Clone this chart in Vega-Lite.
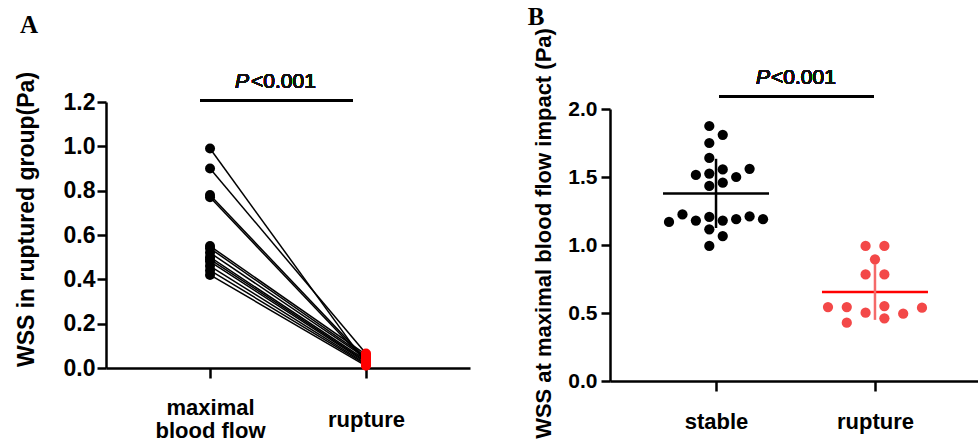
{
  "$schema": "https://vega.github.io/schema/vega-lite/v6.json",
  "background": "white",
  "padding": {"left": 15, "top": 4, "right": 0, "bottom": 0},
  "spacing": 57,
  "config": {
    "view": {"stroke": null},
    "font": "Liberation Sans",
    "text": {"fontWeight": 400},
    "axis": {
      "grid": false,
      "domainColor": "black",
      "domainWidth": 2.5,
      "tickColor": "black",
      "tickWidth": 2.5,
      "tickSize": 9,
      "labelFont": "Liberation Sans",
      "labelFontWeight": "bold",
      "labelColor": "black",
      "titleFont": "Liberation Sans",
      "titleFontWeight": "bold",
      "titleColor": "black"
    }
  },
  "datasets": {
    "pairs": [
      {"id": 1, "stage": "maximal blood flow", "wss": 0.99},
      {"id": 2, "stage": "maximal blood flow", "wss": 0.90},
      {"id": 3, "stage": "maximal blood flow", "wss": 0.78},
      {"id": 4, "stage": "maximal blood flow", "wss": 0.77},
      {"id": 5, "stage": "maximal blood flow", "wss": 0.55},
      {"id": 6, "stage": "maximal blood flow", "wss": 0.54},
      {"id": 7, "stage": "maximal blood flow", "wss": 0.52},
      {"id": 8, "stage": "maximal blood flow", "wss": 0.50},
      {"id": 9, "stage": "maximal blood flow", "wss": 0.49},
      {"id": 10, "stage": "maximal blood flow", "wss": 0.48},
      {"id": 11, "stage": "maximal blood flow", "wss": 0.46},
      {"id": 12, "stage": "maximal blood flow", "wss": 0.44},
      {"id": 13, "stage": "maximal blood flow", "wss": 0.42},
      {"id": 1, "stage": "rupture", "wss": 0.02},
      {"id": 2, "stage": "rupture", "wss": 0.065},
      {"id": 3, "stage": "rupture", "wss": 0.04},
      {"id": 4, "stage": "rupture", "wss": 0.03},
      {"id": 5, "stage": "rupture", "wss": 0.06},
      {"id": 6, "stage": "rupture", "wss": 0.05},
      {"id": 7, "stage": "rupture", "wss": 0.045},
      {"id": 8, "stage": "rupture", "wss": 0.035},
      {"id": 9, "stage": "rupture", "wss": 0.03},
      {"id": 10, "stage": "rupture", "wss": 0.025},
      {"id": 11, "stage": "rupture", "wss": 0.02},
      {"id": 12, "stage": "rupture", "wss": 0.015},
      {"id": 13, "stage": "rupture", "wss": 0.01}
    ],
    "groups": [
      {"group": "stable", "wss": 1.875, "slot": -0.5},
      {"group": "stable", "wss": 1.81, "slot": 0.5},
      {"group": "stable", "wss": 1.75, "slot": -0.5},
      {"group": "stable", "wss": 1.64, "slot": -0.5},
      {"group": "stable", "wss": 1.515, "slot": -1.5},
      {"group": "stable", "wss": 1.525, "slot": -0.5},
      {"group": "stable", "wss": 1.556, "slot": 0.5},
      {"group": "stable", "wss": 1.50, "slot": 1.5},
      {"group": "stable", "wss": 1.56, "slot": 2.5},
      {"group": "stable", "wss": 1.434, "slot": -0.5},
      {"group": "stable", "wss": 1.458, "slot": 0.5},
      {"group": "stable", "wss": 1.17, "slot": -3.5},
      {"group": "stable", "wss": 1.225, "slot": -2.5},
      {"group": "stable", "wss": 1.18, "slot": -1.5},
      {"group": "stable", "wss": 1.206, "slot": -0.5},
      {"group": "stable", "wss": 1.18, "slot": 0.5},
      {"group": "stable", "wss": 1.19, "slot": 1.5},
      {"group": "stable", "wss": 1.21, "slot": 2.5},
      {"group": "stable", "wss": 1.19, "slot": 3.5},
      {"group": "stable", "wss": 1.115, "slot": -0.5},
      {"group": "stable", "wss": 1.066, "slot": 0.5},
      {"group": "stable", "wss": 0.993, "slot": -0.5},
      {"group": "rupture", "wss": 0.993, "slot": -0.7},
      {"group": "rupture", "wss": 0.993, "slot": 0.7},
      {"group": "rupture", "wss": 0.895, "slot": 0},
      {"group": "rupture", "wss": 0.784, "slot": -0.7},
      {"group": "rupture", "wss": 0.784, "slot": 0.7},
      {"group": "rupture", "wss": 0.544, "slot": -3.5},
      {"group": "rupture", "wss": 0.544, "slot": -2.1},
      {"group": "rupture", "wss": 0.551, "slot": 0.7},
      {"group": "rupture", "wss": 0.539, "slot": 3.5},
      {"group": "rupture", "wss": 0.502, "slot": -0.7},
      {"group": "rupture", "wss": 0.495, "slot": 2.1},
      {"group": "rupture", "wss": 0.461, "slot": 0.7},
      {"group": "rupture", "wss": 0.429, "slot": -2.1}
    ]
  },
  "hconcat": [
    {
      "width": 364,
      "height": 279,
      "title": {"text": "A", "anchor": "start", "frame": "bounds", "font": "Liberation Serif", "fontSize": 25, "fontWeight": "bold", "color": "black", "offset": 33, "dx": 5},
      "data": {"name": "pairs"},
      "encoding": {
        "x": {
          "field": "stage", "type": "nominal", "sort": ["maximal blood flow", "rupture"],
          "scale": {"type": "point", "padding": 0.667, "align": 0.5},
          "axis": {"title": null, "labelAngle": 0, "offset": -13, "tickSize": 10, "labelFontSize": 22, "labelBaseline": "middle", "labelLineHeight": 23,
                   "labelPadding": {"condition": {"test": "datum.value == 'maximal blood flow'", "value": 29}, "value": 41},
                   "labelExpr": "datum.value == 'maximal blood flow' ? ['maximal', 'blood flow'] : datum.label"}
        },
        "y": {
          "field": "wss", "type": "quantitative",
          "scale": {"domain": [0, 1.2], "range": [266, 0], "nice": false, "zero": false},
          "axis": {"title": "WSS in ruptured group(Pa)", "titleFontSize": 23, "titleY": 117, "titlePadding": 25, "values": [0, 0.2, 0.4, 0.6, 0.8, 1.0, 1.2], "format": ".1f", "labelFontSize": 23, "labelPadding": 2}
        }
      },
      "layer": [
        {"mark": {"type": "line", "color": "black", "strokeWidth": 1.5}, "encoding": {"detail": {"field": "id", "type": "nominal"}}},
        {"mark": {"type": "circle", "size": 100, "opacity": 1},
         "encoding": {"color": {"condition": {"test": "datum.stage === 'rupture'", "value": "#ff0000"}, "value": "black"}}},
        {"mark": {"type": "rule", "color": "black", "strokeWidth": 2.5, "xOffset": -10, "x2Offset": -13},
         "encoding": {"x": {"datum": "maximal blood flow", "type": "nominal"}, "x2": {"datum": "rupture"}, "y": {"datum": 1.2077, "type": "quantitative"}}},
        {"mark": {"type": "text", "text": "P", "font": "Liberation Sans", "fontStyle": "italic", "fontWeight": 400, "fontSize": 21, "align": "left", "baseline": "middle", "xOffset": 25, "color": "#111111"},
         "encoding": {"x": {"datum": "maximal blood flow", "type": "nominal"}, "y": {"datum": 1.29, "type": "quantitative"}}},
        {"mark": {"type": "text", "text": "<0.001", "font": "Liberation Sans", "fontWeight": 400, "fontSize": 21, "align": "left", "baseline": "middle", "xOffset": 41, "color": "#111111"},
         "encoding": {"x": {"datum": "maximal blood flow", "type": "nominal"}, "y": {"datum": 1.29, "type": "quantitative"}}}
      ]
    },
    {
      "width": 371,
      "height": 279,
      "title": {"text": "B", "anchor": "start", "frame": "bounds", "font": "Liberation Serif", "fontSize": 25, "fontWeight": "bold", "color": "black", "offset": -2, "dx": -5},
      "data": {"name": "groups"},
      "encoding": {
        "x": {
          "field": "group", "type": "nominal", "sort": ["stable", "rupture"],
          "scale": {"type": "point", "padding": 0.667, "align": 0.5},
          "axis": {"title": null, "labelAngle": 0, "tickSize": 10, "labelFontSize": 22, "labelBaseline": "middle", "labelPadding": 30}
        },
        "y": {
          "field": "wss", "type": "quantitative",
          "scale": {"domain": [0, 2], "range": [279, 7], "nice": false, "zero": false},
          "axis": {"title": "WSS at maximal blood flow impact (Pa)", "titleFontSize": 22, "titleY": 131, "titlePadding": 12, "values": [0, 0.5, 1.0, 1.5, 2.0], "format": ".1f", "labelFontSize": 21, "labelPadding": 4}
        }
      },
      "layer": [
        {"mark": {"type": "circle", "size": 105, "opacity": 1},
         "encoding": {
           "xOffset": {"field": "slot", "type": "quantitative", "scale": {"domain": [-3.5, 3.5], "range": [-47, 47]}},
           "color": {"condition": {"test": "datum.group === 'rupture'", "value": "#f34848"}, "value": "black"}}},
        {"mark": {"type": "tick", "thickness": 2.5, "size": 106},
         "encoding": {"y": {"aggregate": "mean", "field": "wss", "type": "quantitative"},
                      "color": {"condition": {"test": "datum.group === 'rupture'", "value": "#ff0000"}, "value": "black"}}},
        {"mark": {"type": "errorbar", "extent": "stdev", "size": 54, "thickness": 2.5},
         "encoding": {"y": {"field": "wss", "type": "quantitative"},
                      "color": {"condition": {"test": "datum.group === 'rupture'", "value": "#f56a6a"}, "value": "black"}}},
        {"mark": {"type": "rule", "color": "black", "strokeWidth": 2.5, "xOffset": 3, "x2Offset": -1},
         "encoding": {"x": {"datum": "stable", "type": "nominal"}, "x2": {"datum": "rupture"}, "y": {"datum": 2.09, "type": "quantitative"}}},
        {"mark": {"type": "text", "text": "P", "font": "Liberation Sans", "fontStyle": "italic", "fontWeight": 400, "fontSize": 21, "align": "left", "baseline": "middle", "xOffset": 40, "color": "#111111"},
         "encoding": {"x": {"datum": "stable", "type": "nominal"}, "y": {"datum": 2.23, "type": "quantitative"}}},
        {"mark": {"type": "text", "text": "<0.001", "font": "Liberation Sans", "fontWeight": 400, "fontSize": 21, "align": "left", "baseline": "middle", "xOffset": 55, "color": "#111111"},
         "encoding": {"x": {"datum": "stable", "type": "nominal"}, "y": {"datum": 2.23, "type": "quantitative"}}}
      ]
    }
  ]
}
